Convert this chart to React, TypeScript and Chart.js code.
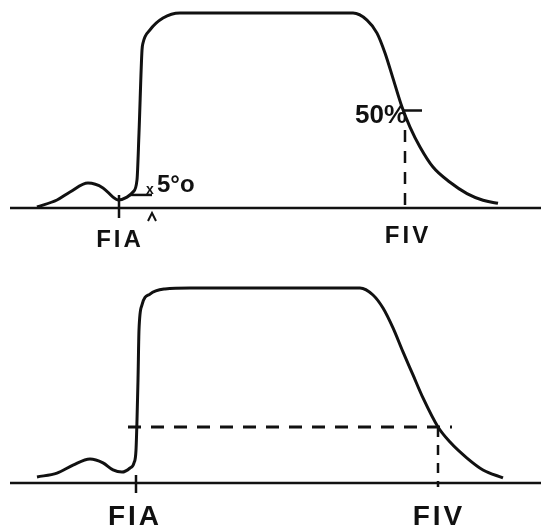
import React, { useEffect, useRef } from "react";
import { Chart, registerables } from "chart.js";

Chart.register(...registerables);

// x in time units, y in % of plateau height
const topCurveX = [7.4, 11.4, 14, 17.6, 20.6, 22.6, 23.6, 25.4, 26.6, 27.4, 27.8, 28.4, 28.6, 30, 32.6, 36, 38, 70.6, 73.4, 75.4, 77, 78.6, 80.4, 82, 84, 86.6, 90, 93.4, 96.6, 99.6];
const topCurveY = [0.5, 4.1, 8.2, 12.8, 10.3, 5.6, 4.1, 5.6, 8.2, 14.4, 38.5, 81, 84.6, 91.3, 97.4, 100, 100, 100, 96.4, 89.7, 79.5, 66.5, 51.8, 41.5, 31.3, 21, 13.2, 7.4, 4.0, 2.4];

const bottomCurveX = [7.4, 11.4, 14.6, 18, 20.6, 22.6, 24.4, 26, 26.8, 27.2, 27.4, 27.6, 27.8, 28.4, 30, 33, 38, 72, 74.6, 76.6, 78.6, 80.6, 82.6, 84.6, 87.6, 90, 93.4, 96.6, 100.6];
const bottomCurveY = [3.1, 5.1, 9.2, 12.3, 10.3, 6.7, 5.6, 7.7, 10.3, 16.9, 32.3, 52.8, 78.5, 91.3, 96.9, 99.5, 100, 100, 96.4, 89.7, 79.5, 67.2, 55.4, 43.6, 28.7, 21, 12.8, 6.7, 2.6];

const axisRange = [2, 108.2];
const topFIA = 23.8;
const topFIV = 81;
const topHalfLevel = 50;
const topFiveLevel = 6.7;
const topFiveRange = [26, 30.4];
const bottomFIA = 27.2;
const bottomFIV = 87.6;
const bottomLevel = 28.7;
const bottomLevelRange = [25.6, 90.4];
const tickLabels = ["FIA", "FIV"];
const halfLabel = "50%";
const fiveLabel = "5°o";

const INK = "#111";

type Pt = { x: number; y: number };
const zip = (xs: number[], ys: number[]): Pt[] => xs.map((x, i) => ({ x, y: ys[i] }));

function line(data: Pt[], opts: any = {}) {
  return {
    data,
    borderColor: INK,
    borderWidth: 3,
    pointRadius: 0,
    fill: false,
    tension: 0,
    ...opts,
  };
}

function makeTop(canvas: HTMLCanvasElement) {
  const datasets = [
    line([{ x: axisRange[0], y: 0 }, { x: axisRange[1], y: 0 }], { borderWidth: 2.5 }),
    line(zip(topCurveX, topCurveY), { cubicInterpolationMode: "monotone" }),
    line([{ x: topFIA, y: 6.7 }, { x: topFIA, y: -5.1 }], { borderWidth: 2.5 }),
    line([{ x: topFIV, y: 40 }, { x: topFIV, y: 0 }], { borderWidth: 2.5, borderDash: [12, 9] }),
    line([{ x: 80.5, y: topHalfLevel }, { x: 84.4, y: topHalfLevel }], { borderWidth: 2.5 }),
    line([{ x: topFiveRange[0], y: topFiveLevel }, { x: topFiveRange[1], y: topFiveLevel }], { borderWidth: 2.5 }),
  ];
  const textPlugin = {
    id: "txtTop",
    afterDatasetsDraw(chart: any) {
      const { ctx, scales } = chart;
      const xs = scales.x, ys = scales.y;
      const y0 = ys.getPixelForValue(0);
      ctx.save();
      ctx.fillStyle = INK;
      ctx.textBaseline = "middle";
      ctx.textAlign = "center";
      ctx.font = "bold 24px 'Liberation Sans'";
      (ctx as any).letterSpacing = "3px";
      ctx.fillText(tickLabels[0], xs.getPixelForValue(topFIA) + 1, y0 + 32);
      ctx.fillText(tickLabels[1], xs.getPixelForValue(topFIV) + 3, y0 + 28);
      (ctx as any).letterSpacing = "0px";
      ctx.font = "bold 26px 'Liberation Sans'";
      ctx.textAlign = "right";
      ctx.fillText(halfLabel, xs.getPixelForValue(topFIV) + 2, ys.getPixelForValue(topHalfLevel) + 5);
      ctx.textAlign = "left";
      ctx.font = "bold 14px 'Liberation Sans'";
      const fx = xs.getPixelForValue(topFiveRange[1]);
      const fy = ys.getPixelForValue(topFiveLevel);
      ctx.fillText("x", fx - 6, fy - 5);
      ctx.font = "bold 24px 'Liberation Sans'";
      ctx.fillText(fiveLabel, fx + 5, fy - 10);
      // caret
      ctx.strokeStyle = INK;
      ctx.lineWidth = 2;
      ctx.beginPath();
      ctx.moveTo(fx - 4, y0 + 13);
      ctx.lineTo(fx, y0 + 5);
      ctx.lineTo(fx + 4, y0 + 13);
      ctx.stroke();
      ctx.restore();
    },
  };
  return new Chart(canvas, {
    type: "line",
    data: { datasets } as any,
    options: {
      animation: false,
      responsive: false,
      devicePixelRatio: 1,
      layout: { padding: 0 },
      plugins: { legend: { display: false }, tooltip: { enabled: false } },
      scales: {
        x: { type: "linear", min: 0, max: 108.2, display: false },
        y: { type: "linear", min: -29.23, max: 106.67, display: false },
      },
    } as any,
    plugins: [textPlugin],
  });
}

function makeBottom(canvas: HTMLCanvasElement) {
  const datasets = [
    line([{ x: axisRange[0], y: 0 }, { x: axisRange[1], y: 0 }], { borderWidth: 2.5 }),
    line(zip(bottomCurveX, bottomCurveY), { cubicInterpolationMode: "monotone" }),
    line([{ x: bottomFIA, y: 4.1 }, { x: bottomFIA, y: -5.1 }], { borderWidth: 2.5 }),
    line([{ x: bottomLevelRange[0], y: bottomLevel }, { x: bottomLevelRange[1], y: bottomLevel }], { borderWidth: 3, borderDash: [13, 10] }),
    line([{ x: bottomFIV, y: bottomLevel }, { x: bottomFIV, y: -2 }], { borderWidth: 2.5, borderDash: [10, 8] }),
  ];
  const textPlugin = {
    id: "txtBottom",
    afterDatasetsDraw(chart: any) {
      const { ctx, scales } = chart;
      const xs = scales.x, ys = scales.y;
      const y0 = ys.getPixelForValue(0);
      ctx.save();
      ctx.fillStyle = INK;
      ctx.textBaseline = "middle";
      ctx.textAlign = "center";
      ctx.font = "bold 28px 'Liberation Sans'";
      (ctx as any).letterSpacing = "3px";
      ctx.fillText(tickLabels[0], xs.getPixelForValue(bottomFIA) - 1, y0 + 34);
      ctx.fillText(tickLabels[1], xs.getPixelForValue(bottomFIV) + 1, y0 + 34);
      ctx.restore();
    },
  };
  return new Chart(canvas, {
    type: "line",
    data: { datasets } as any,
    options: {
      animation: false,
      responsive: false,
      devicePixelRatio: 1,
      layout: { padding: 0 },
      plugins: { legend: { display: false }, tooltip: { enabled: false } },
      scales: {
        x: { type: "linear", min: 0, max: 108.2, display: false },
        y: { type: "linear", min: -24.1, max: 111.79, display: false },
      },
    } as any,
    plugins: [textPlugin],
  });
}

export default function App() {
  const topRef = useRef<HTMLCanvasElement>(null);
  const botRef = useRef<HTMLCanvasElement>(null);
  useEffect(() => {
    const a = makeTop(topRef.current!);
    const b = makeBottom(botRef.current!);
    return () => {
      a.destroy();
      b.destroy();
    };
  }, []);
  return (
    <div style={{ position: "absolute", left: 0, top: 0, width: 541, height: 530, background: "#fff" }}>
      <canvas ref={topRef} width={541} height={265} style={{ display: "block", width: 541, height: 265 }} />
      <canvas ref={botRef} width={541} height={265} style={{ display: "block", width: 541, height: 265 }} />
    </div>
  );
}
